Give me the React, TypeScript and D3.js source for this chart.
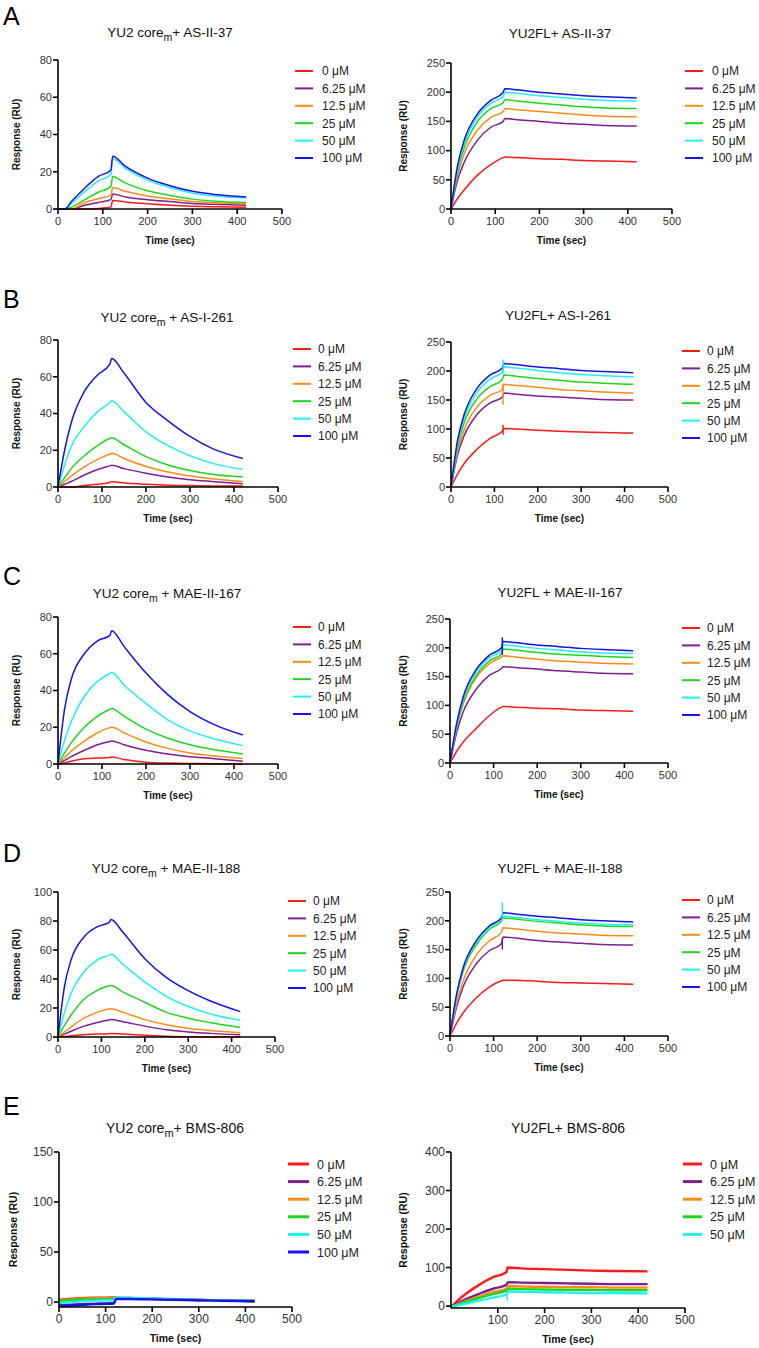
import React from "react";
import * as d3 from "d3";

// ---------- DATA ----------
const TIMES = [0, 15, 30, 60, 90, 118, 122, 150, 200, 250, 300, 350, 420];
const CONC = ["0 μM", "6.25 μM", "12.5 μM", "25 μM", "50 μM", "100 μM"];
const COLORS = ["#ff1a1a", "#7d1f8c", "#ff8a1a", "#1ed61e", "#22f0f0", "#1414e6"];

// A: AS-II-37
const A_CORE = [
  [0, 0, 0, 0, 0.3, 1, 4.5, 3.8, 2.8, 2, 1.5, 1.2, 1],
  [0, 0, 0, 2, 3.5, 5, 8, 6.5, 5, 4, 3, 2.5, 2],
  [0, 0, 0, 3.5, 5.5, 7.5, 11.5, 9.5, 7, 5.5, 4, 3.3, 2.8],
  [0, 0, 1, 5, 9, 12, 17.5, 14, 9.8, 7.3, 5.3, 4.2, 3.5],
  [0, 0, 3, 9.5, 15, 18.5, 27, 22, 15.5, 11.5, 8.5, 7, 6],
  [0, 0, 4, 11.3, 17.5, 20.8, 28.3, 23, 16.6, 12.5, 9.5, 7.8, 6.5],
];
const A_FL = [
  [0, 18, 33, 58, 76, 88, 89, 88, 86, 85, 83, 82, 81],
  [0, 50, 80, 118, 140, 150, 155, 153, 150, 147, 145, 143, 142],
  [0, 58, 95, 135, 157, 167, 172, 170, 167, 164, 161, 159, 158],
  [0, 65, 105, 150, 172, 182, 187, 185, 181, 178, 175, 173, 172],
  [0, 70, 112, 158, 181, 193, 200, 198, 194, 191, 188, 186, 185],
  [0, 75, 118, 163, 186, 200, 206, 204, 200, 197, 194, 192, 190],
];
// B: AS-I-261
const B_CORE = [
  [0, 0, 0, 0.8, 1.5, 2.5, 2.8, 2.2, 1.5, 1, 0.8, 0.6, 0.5],
  [0, 1.5, 3, 6.5, 9.5, 11.5, 11.8, 10, 7.5, 5.5, 4, 3, 1.8],
  [0, 3, 6, 11, 15, 18, 18.3, 15.5, 11.2, 8.2, 6, 4.5, 3],
  [0, 5, 10, 17, 22.5, 26.5, 26.8, 23, 16.5, 12, 9, 7, 5.5],
  [0, 12, 22, 33, 41, 46, 47, 41, 30, 22.5, 17, 13, 9.5],
  [0, 20, 35, 52, 61, 67, 70, 62, 46, 36, 27.5, 21, 15.5],
];
const B_FL = [
  [0, 22, 40, 65, 84, 96, 101, 100, 98, 96, 95, 94, 93],
  [0, 55, 88, 125, 145, 155, 162, 160, 157, 155, 153, 151, 150],
  [0, 60, 98, 138, 158, 168, 177, 175, 172, 168, 166, 164, 162],
  [0, 68, 110, 152, 173, 185, 193, 191, 187, 184, 181, 179, 177],
  [0, 75, 118, 163, 186, 198, 207, 205, 201, 197, 194, 192, 190],
  [0, 80, 124, 170, 193, 205, 213, 211, 207, 204, 201, 199, 197],
];
const B_FL_SPIKES = [[0, 90, 107], [2, 142, 178], [4, 195, 220]];
// C: MAE-II-167
const C_CORE = [
  [0, 0.5, 1.5, 2.8, 3.2, 3.5, 3.8, 2.5, 1, 0.5, 0.3, 0.2, 0],
  [0, 2, 4, 7.5, 10.5, 12.3, 12.5, 10.5, 7.5, 5.5, 4, 3, 1.5],
  [0, 3.5, 7, 12.5, 17, 19.8, 20, 17, 12, 8.5, 6, 4.5, 3],
  [0, 6, 11.5, 20, 26, 29.8, 30.2, 26, 19, 14, 10.5, 8, 5.5],
  [0, 13, 23, 37, 45, 49.3, 49.8, 43, 33, 24, 18, 14, 10],
  [0, 30, 46, 60, 67, 70, 72.5, 64, 49.5, 37.6, 28.5, 22, 15.8],
];
const C_FL = [
  [0, 20, 36, 60, 82, 97, 98, 97, 95, 94, 92, 91, 90],
  [0, 52, 88, 128, 152, 164, 167, 166, 163, 160, 158, 156, 155],
  [0, 60, 102, 148, 172, 184, 186, 184, 180, 177, 175, 173, 172],
  [0, 62, 105, 152, 177, 189, 198, 196, 192, 189, 187, 185, 183],
  [0, 65, 110, 158, 183, 195, 205, 203, 199, 196, 193, 191, 190],
  [0, 68, 114, 162, 187, 200, 211, 209, 205, 202, 199, 197, 195],
];
const C_FL_SPIKES = [[5, 188, 218]];
// D: MAE-II-188
const D_CORE = [
  [0, 0.3, 0.8, 1.5, 2, 2.3, 2.5, 2, 1.2, 0.5, 0.2, 0, 0],
  [0, 2, 4, 7.5, 10, 11.8, 12, 10.5, 7.5, 5, 3.5, 2.5, 1.5],
  [0, 3.5, 7, 13, 17, 19.3, 19.5, 17, 12, 8.5, 6, 4.5, 3],
  [0, 8, 15, 26, 32, 35.3, 35.5, 31, 24, 17, 13, 10, 6.5],
  [0, 17, 30, 45, 53, 56.5, 57, 50, 38, 28, 21, 16, 11.5],
  [0, 35, 53, 69, 76, 79, 81, 72, 54, 41, 32, 25, 17.5],
];
const D_FL = [
  [0, 22, 40, 66, 85, 96, 97, 97, 95, 93, 92, 91, 90],
  [0, 50, 85, 125, 148, 160, 172, 170, 166, 163, 161, 159, 158],
  [0, 55, 95, 140, 165, 180, 188, 186, 182, 179, 177, 175, 174],
  [0, 68, 112, 158, 185, 200, 205, 203, 199, 196, 193, 191, 190],
  [0, 70, 116, 162, 189, 203, 208, 206, 202, 199, 196, 194, 193],
  [0, 72, 118, 165, 191, 205, 214, 212, 208, 205, 202, 200, 198],
];
const D_FL_SPIKES = [[1, 150, 170], [4, 200, 232]];
// E: BMS-806
const E_CORE = [
  [2, 2.8, 3.3, 4, 4.3, 4.5, 4.2, 4, 3.3, 2.7, 2, 1.5, 1],
  [-3, -2.8, -2.5, -2, -1.5, -1, 3.5, 3.5, 3, 2.5, 2, 1.5, 1],
  [1.5, 2.2, 2.7, 3.5, 3.8, 4, 4, 3.8, 3.2, 2.6, 2, 1.5, 1],
  [1, 1.5, 2, 2.5, 2.8, 3, 4, 3.8, 3.2, 2.6, 2, 1.5, 1],
  [-1, -0.5, 0, 1, 1.5, 2, 4.5, 4.2, 3.5, 2.8, 2.1, 1.6, 1.1],
  [-4, -3.7, -3.3, -2.5, -2, -1.5, 3, 3, 2.6, 2.2, 1.8, 1.3, 0.8],
];
const E_FL = [
  [-3, 15, 30, 55, 75, 88, 100, 98, 96, 94, 92, 91, 90],
  [-3, 8, 17, 32, 45, 55, 62, 61, 60, 59, 58, 57, 57],
  [-3, 5, 12, 25, 36, 45, 52, 51, 50, 49, 49, 48, 48],
  [-3, 4, 10, 21, 31, 40, 45, 44, 43, 42, 42, 41, 41],
  [-3, 2, 6, 14, 22, 30, 38, 37, 36, 35, 34, 34, 33],
];
const E_FL_SPIKES = [[0, 88, 103], [4, 14, 38]];

const X_TICKS = [0, 100, 200, 300, 400, 500];
const X_TICKS_E = [100, 200, 300, 400, 500];
const Y_TICKS_80 = [0, 20, 40, 60, 80];
const Y_TICKS_100 = [0, 20, 40, 60, 80, 100];
const Y_TICKS_250 = [0, 50, 100, 150, 200, 250];
const Y_TICKS_150 = [0, 50, 100, 150];
const Y_TICKS_400 = [0, 100, 200, 300, 400];

// ---------- LAYOUT ----------
type Cfg = {
  series: number[][];
  spikes?: number[][];
  left: number; right: number; top: number; bottom: number;
  yDomain: [number, number]; yTicks: number[]; xTicks: number[];
  title: [string, string | null, string];
  titleX: number; titleY: number;
  legX: number; legTextX: number; legY: number; legLen: number;
  yLabelX: number; lw: number; legLw: number; big?: boolean;
};

const PANELS: Cfg[] = [
  { series: A_CORE, left: 58, right: 282, top: 60, bottom: 209, yDomain: [0, 80], yTicks: Y_TICKS_80, xTicks: X_TICKS,
    title: ["YU2 core", "m", "+ AS-II-37"], titleX: 170, titleY: 37, legX: 295, legTextX: 322, legY: 71, legLen: 18, yLabelX: 16, lw: 1.5, legLw: 2 },
  { series: A_FL, left: 451, right: 672, top: 63, bottom: 209, yDomain: [0, 250], yTicks: Y_TICKS_250, xTicks: X_TICKS,
    title: ["YU2FL", null, "+ AS-II-37"], titleX: 560, titleY: 38, legX: 685, legTextX: 712, legY: 71, legLen: 18, yLabelX: 403, lw: 1.5, legLw: 2 },
  { series: B_CORE, left: 58, right: 278, top: 340, bottom: 487, yDomain: [0, 80], yTicks: Y_TICKS_80, xTicks: X_TICKS,
    title: ["YU2 core", "m", " + AS-I-261"], titleX: 167, titleY: 322, legX: 293, legTextX: 318, legY: 349, legLen: 18, yLabelX: 16, lw: 1.5, legLw: 2 },
  { series: B_FL, spikes: B_FL_SPIKES, left: 451, right: 668, top: 342, bottom: 487, yDomain: [0, 250], yTicks: Y_TICKS_250, xTicks: X_TICKS,
    title: ["YU2FL", null, "+ AS-I-261"], titleX: 558, titleY: 320, legX: 682, legTextX: 707, legY: 351, legLen: 18, yLabelX: 403, lw: 1.5, legLw: 2 },
  { series: C_CORE, left: 58, right: 278, top: 617, bottom: 764, yDomain: [0, 80], yTicks: Y_TICKS_80, xTicks: X_TICKS,
    title: ["YU2 core", "m", " + MAE-II-167"], titleX: 167, titleY: 598, legX: 293, legTextX: 318, legY: 627, legLen: 18, yLabelX: 16, lw: 1.5, legLw: 2 },
  { series: C_FL, spikes: C_FL_SPIKES, left: 450, right: 668, top: 619, bottom: 763, yDomain: [0, 250], yTicks: Y_TICKS_250, xTicks: X_TICKS,
    title: ["YU2FL", null, " + MAE-II-167"], titleX: 560, titleY: 597, legX: 682, legTextX: 707, legY: 628, legLen: 18, yLabelX: 403, lw: 1.5, legLw: 2 },
  { series: D_CORE, left: 58, right: 275, top: 892, bottom: 1037, yDomain: [0, 100], yTicks: Y_TICKS_100, xTicks: X_TICKS,
    title: ["YU2 core", "m", " + MAE-II-188"], titleX: 166, titleY: 873, legX: 288, legTextX: 313, legY: 901, legLen: 18, yLabelX: 16, lw: 1.5, legLw: 2 },
  { series: D_FL, spikes: D_FL_SPIKES, left: 450, right: 668, top: 892, bottom: 1036, yDomain: [0, 250], yTicks: Y_TICKS_250, xTicks: X_TICKS,
    title: ["YU2FL", null, " + MAE-II-188"], titleX: 560, titleY: 873, legX: 682, legTextX: 707, legY: 900, legLen: 18, yLabelX: 403, lw: 1.5, legLw: 2 },
  { series: E_CORE, left: 59, right: 292, top: 1152, bottom: 1307, yDomain: [-5, 150], yTicks: Y_TICKS_150, xTicks: X_TICKS,
    title: ["YU2 core", "m", "+ BMS-806"], titleX: 175, titleY: 1133, legX: 288, legTextX: 317, legY: 1164, legLen: 21, yLabelX: 13, lw: 2.4, legLw: 3, big: true },
  { series: E_FL, spikes: E_FL_SPIKES, left: 451, right: 685, top: 1152, bottom: 1308, yDomain: [-5, 400], yTicks: Y_TICKS_400, xTicks: X_TICKS_E,
    title: ["YU2FL", null, "+ BMS-806"], titleX: 568, titleY: 1133, legX: 683, legTextX: 710, legY: 1164, legLen: 19, yLabelX: 403, lw: 2.4, legLw: 3, big: true },
];

const LETTERS = [
  { t: "A", x: 3, y: 25 },
  { t: "B", x: 3, y: 308 },
  { t: "C", x: 3, y: 585 },
  { t: "D", x: 3, y: 862 },
  { t: "E", x: 3, y: 1115 },
];

const FONT = "'Liberation Sans', Arial, Helvetica, sans-serif";

function Panel({ c }: { c: Cfg }) {
  const x = d3.scaleLinear().domain([0, 500]).range([c.left, c.right]);
  const y = d3.scaleLinear().domain(c.yDomain).range([c.bottom, c.top]);
  const line = d3
    .line<number>()
    .x((_, i) => x(TIMES[i]))
    .y((v) => y(v))
    .curve(d3.curveMonotoneX);
  const fs = c.big ? 12 : 11;
  const axisW = 1.6;
  const rowH = c.big ? 17.6 : 17.4;
  return (
    <g fontFamily={FONT}>
      <text x={c.titleX} y={c.titleY} textAnchor="middle" fontSize={c.big ? 14 : 13.5} fill="#111">
        <tspan>{c.title[0]}</tspan>
        {c.title[1] ? (
          <tspan fontSize={c.big ? 11 : 10.5} dy={4}>{c.title[1]}</tspan>
        ) : null}
        <tspan dy={c.title[1] ? -4 : 0}>{c.title[2]}</tspan>
      </text>
      {c.series.map((s, i) => (
        <path key={i} d={line(s) || ""} fill="none" stroke={COLORS[i]} strokeWidth={c.lw} strokeLinejoin="round" />
      ))}
      {(c.spikes || []).map((sp, i) => (
        <line key={"sp" + i} x1={x(120)} x2={x(120)} y1={y(sp[1])} y2={y(sp[2])} stroke={COLORS[sp[0]]} strokeWidth={1.5} />
      ))}
      <line x1={c.left} x2={c.left} y1={c.top} y2={c.bottom} stroke="#000" strokeWidth={axisW} />
      <line x1={c.left} x2={c.right} y1={c.bottom} y2={c.bottom} stroke="#000" strokeWidth={axisW} />
      {c.yTicks.map((t) => (
        <g key={"y" + t}>
          <line x1={c.left - 5} x2={c.left} y1={y(t)} y2={y(t)} stroke="#000" strokeWidth={axisW} />
          <text x={c.left - 6} y={y(t)} dy="0.35em" textAnchor="end" fontSize={fs} fill="#333">{t}</text>
        </g>
      ))}
      {c.xTicks.map((t) => (
        <g key={"x" + t}>
          <line x1={x(t)} x2={x(t)} y1={c.bottom} y2={c.bottom + 5} stroke="#000" strokeWidth={axisW} />
          <text x={x(t)} y={c.bottom + 16} textAnchor="middle" fontSize={fs} fill="#333">{t}</text>
        </g>
      ))}
      <text x={(c.left + c.right) / 2} y={c.bottom + 35} textAnchor="middle" fontSize={c.big ? 10.5 : 10} fontWeight="bold" fill="#111">
        Time (sec)
      </text>
      <text
        transform={`translate(${c.yLabelX},${(c.top + c.bottom) / 2}) rotate(-90)`}
        textAnchor="middle"
        dy="0.35em"
        fontSize={c.big ? 10.5 : 10}
        fontWeight="bold"
        fill="#111"
      >
        Response (RU)
      </text>
      {c.series.map((_, i) => (
        <g key={"l" + i}>
          <line x1={c.legX} x2={c.legX + c.legLen} y1={c.legY + i * rowH} y2={c.legY + i * rowH} stroke={COLORS[i]} strokeWidth={c.legLw} />
          <text x={c.legTextX} y={c.legY + i * rowH} dy="0.36em" fontSize={c.big ? 12.5 : 12} fill="#222">{CONC[i]}</text>
        </g>
      ))}
    </g>
  );
}

export default function App() {
  return (
    <svg
      width={759}
      height={1348}
      style={{ position: "absolute", left: 0, top: 0, display: "block" }}
    >
      <rect x={0} y={0} width={759} height={1348} fill="#fff" />
      {LETTERS.map((l) => (
        <text key={l.t} x={l.x} y={l.y} fontSize={25} fontFamily={FONT} fill="#000">{l.t}</text>
      ))}
      {PANELS.map((c, i) => (
        <Panel key={i} c={c} />
      ))}
    </svg>
  );
}
